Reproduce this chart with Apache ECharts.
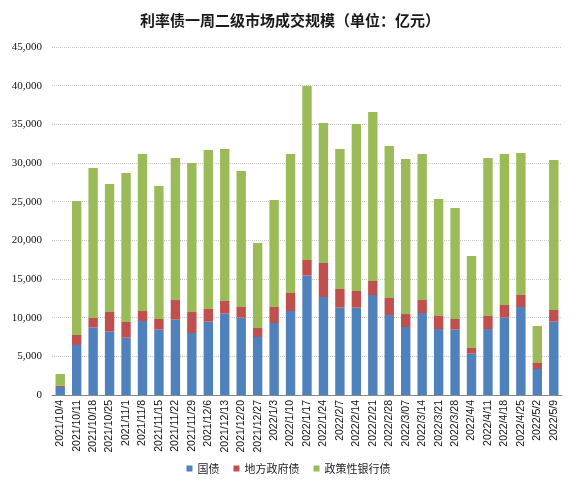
<!DOCTYPE html>
<html><head><meta charset="utf-8">
<script src="https://cdn.jsdelivr.net/npm/echarts@6/dist/echarts.min.js"></script>
<style>html,body{margin:0;padding:0;background:#fff}#c{width:577px;height:487px}</style>
</head><body><div id="c"></div>
<script>
const categories = ["2021/10/4","2021/10/11","2021/10/18","2021/10/25","2021/11/1","2021/11/8","2021/11/15","2021/11/22","2021/11/29","2021/12/6","2021/12/13","2021/12/20","2021/12/27","2022/1/3","2022/1/10","2022/1/17","2022/1/24","2022/2/7","2022/2/14","2022/2/21","2022/2/28","2022/3/07","2022/3/14","2022/3/21","2022/3/28","2022/4/4","2022/4/11","2022/4/18","2022/4/25","2022/5/2","2022/5/9"];
const guozhai = [1030,6470,8710,8190,7410,9570,8450,9740,8020,9480,10520,10000,7500,9310,10860,15430,12670,11290,11290,12930,10340,8790,10600,8530,8450,5340,8530,10000,11380,3360,9480];
const difang = [170,1290,1250,2540,2030,1290,1380,2540,2710,1640,1640,1380,1160,2070,2330,2030,4400,2420,2160,1810,2200,1680,1680,1690,1380,740,1690,1640,1550,780,1510];
const zhengce = [1520,17330,19390,16550,19270,20300,17200,18370,19270,20560,19650,17590,11000,13840,17970,22500,18100,18100,21590,21850,19660,20050,18880,15120,14350,11890,20430,19520,18360,4780,19400];
const yTicks = [0,5000,10000,15000,20000,25000,30000,35000,40000,45000];
const names = ["国债","地方政府债","政策性银行债"];
const colors = ["#4F81BD","#C0504D","#9BBB59"];

const chart = echarts.init(document.getElementById('c'));
const fontFam = '"Noto Sans CJK SC", "DejaVu Sans", sans-serif';
chart.setOption({
  animation:false,
  title:{text:"利率债一周二级市场成交规模（单位：亿元）",left:285,top:8,textAlign:'center',
    textStyle:{fontSize:15,fontWeight:'bold',color:'#1a1a1a',fontFamily:fontFam}},
  legend:{data:names,bottom:8,left:'center',itemWidth:6,itemHeight:6,itemGap:14,icon:'rect',
    textStyle:{fontSize:11,color:'#222',fontFamily:fontFam}},
  grid:{left:52,right:15,top:47,bottom:92,containLabel:false},
  xAxis:{type:'category',data:categories,
    axisLine:{lineStyle:{color:'#888'}},axisTick:{show:false},
    axisLabel:{rotate:90,interval:0,fontSize:10.5,color:'#111',fontFamily:'"Liberation Sans", sans-serif',margin:5}},
  yAxis:{type:'value',min:yTicks[0],max:yTicks[yTicks.length-1],interval:5000,
    axisLine:{show:false},axisTick:{show:false},
    splitLine:{lineStyle:{color:'#c8c8c8',type:'dotted'}},
    axisLabel:{fontSize:11,color:'#111',margin:10,fontFamily:'"Liberation Serif", serif',
      formatter:v=>v.toLocaleString('en-US')}},
  series:[guozhai,difang,zhengce].map((d,i)=>({name:names[i],type:'bar',stack:'a',data:d,
    barWidth:'57%',itemStyle:{color:colors[i]}}))
});
</script></body></html>
